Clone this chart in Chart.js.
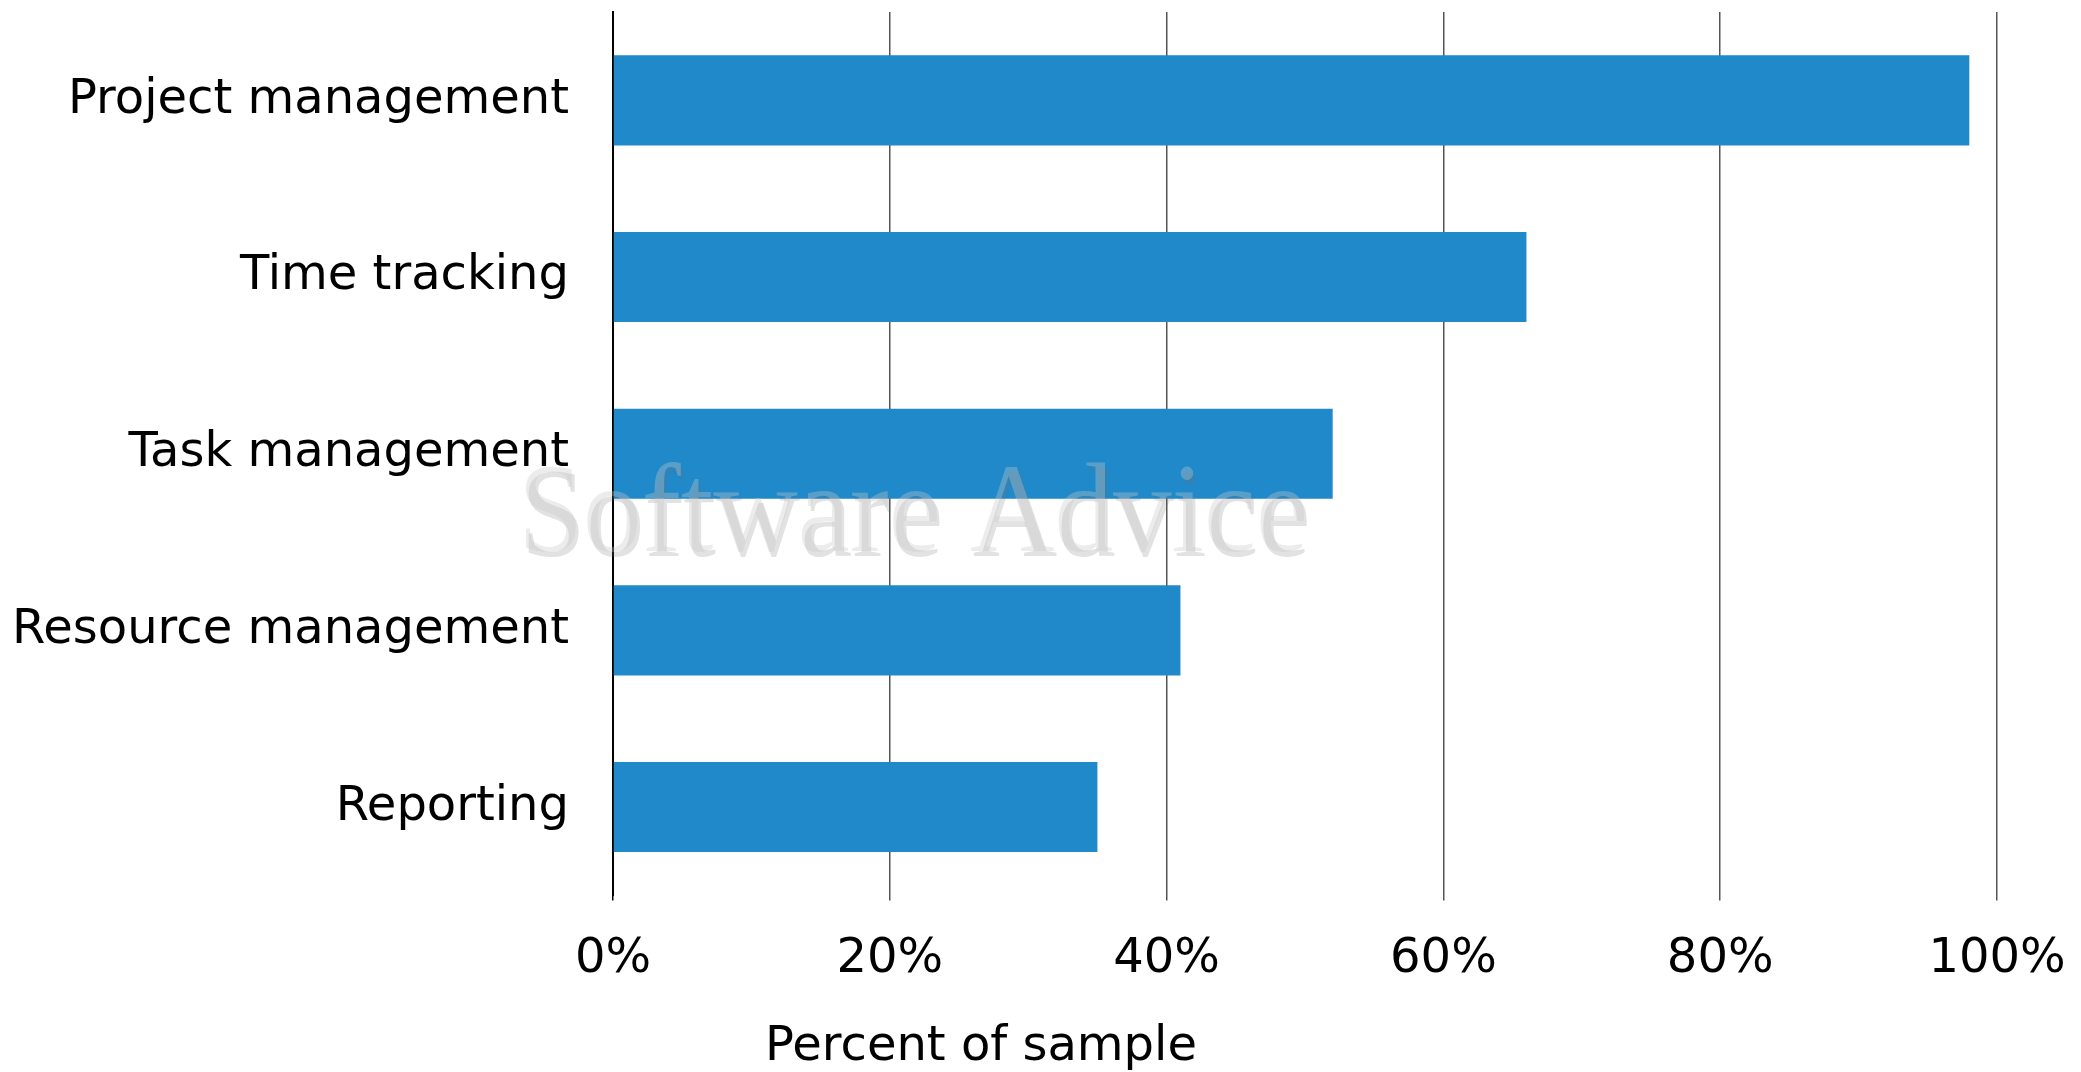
<!DOCTYPE html>
<html>
<head>
<meta charset="utf-8">
<script src="https://cdn.jsdelivr.net/npm/chart.js@4"></script>
<style>
  body { margin: 0; background: #fff; }
  #wrap { width: 2081px; height: 1072px; }
</style>
</head>
<body>
<div id="wrap"><canvas id="chart" width="2081" height="1072"></canvas></div>
<script>
const CATEGORIES = ["Project management", "Time tracking", "Task management", "Resource management", "Reporting"];
const SHARES = [98, 66, 52, 41, 35];
const TICKS = [0, 20, 40, 60, 80, 100];
const AXIS_TITLE = "Percent of sample";
const WATERMARK = "Software Advice";

const FONT = "'DejaVu Sans', sans-serif";

// faint watermark over the plot
const watermark = {
    id: "watermark",
    afterDatasetsDraw(chart) {
        const ctx = chart.ctx;
        ctx.save();
        ctx.font = "127px 'Liberation Serif', serif";
        const w = ctx.measureText(WATERMARK).width;
        const sx = 790 / w;
        ctx.translate(518, 551);
        ctx.scale(sx, 1);
        ctx.fillStyle = "rgba(110,110,110,0.2)";
        ctx.fillText(WATERMARK, 3, 5);
        ctx.fillStyle = "rgba(200,200,200,0.35)";
        ctx.fillText(WATERMARK, 0, 0);
        ctx.restore();
    }
};

// x axis title, sits left of the plot centre like the original
const axisTitle = {
    id: "axisTitle",
    afterDraw(chart) {
        const ctx = chart.ctx;
        ctx.save();
        ctx.font = "48px " + FONT;
        ctx.fillStyle = "#000";
        ctx.textAlign = "center";
        ctx.textBaseline = "middle";
        ctx.fillText(AXIS_TITLE, 981, 1048);
        ctx.restore();
    }
};

const ctx = document.getElementById("chart").getContext("2d");
const myChart = new Chart(ctx, {
    type: "bar",
    data: {
        labels: CATEGORIES,
        datasets: [{
            data: SHARES,
            backgroundColor: "#2089c9",
            borderWidth: 0,
            categoryPercentage: 1,
            barPercentage: 0.51
        }]
    },
    options: {
        indexAxis: "y",
        responsive: false,
        animation: false,
        layout: { padding: { left: 0, right: 84, top: 12, bottom: 54 } },
        plugins: {
            legend: { display: false },
            tooltip: { enabled: false }
        },
        scales: {
            x: {
                min: 0,
                max: 100,
                afterBuildTicks: (scale) => { scale.ticks = TICKS.map(v => ({ value: v })); },
                grid: {
                    color: (c) => c.index === 0 ? "#000" : "#555",
                    lineWidth: 1.5,
                    tickLength: 5,
                    drawTicks: true
                },
                border: { display: false },
                ticks: {
                    callback: (v) => v + "%",
                    color: "#000",
                    font: { family: FONT, size: 48 },
                    padding: 30,
                    maxRotation: 0
                },
                afterFit: (scale) => {
                    scale.paddingLeft = 0;
                    scale.paddingRight = 0;
                }
            },
            y: {
                grid: { display: false, drawTicks: false },
                border: { display: true, color: "#000", width: 2 },
                ticks: {
                    color: "#000",
                    font: { family: FONT, size: 48 },
                    padding: 44
                },
                afterFit: (scale) => {
                    scale.width = 613;
                    scale.paddingTop = 0;
                    scale.paddingBottom = 0;
                }
            }
        }
    },
    plugins: [watermark, axisTitle]
});
</script>
</body>
</html>
